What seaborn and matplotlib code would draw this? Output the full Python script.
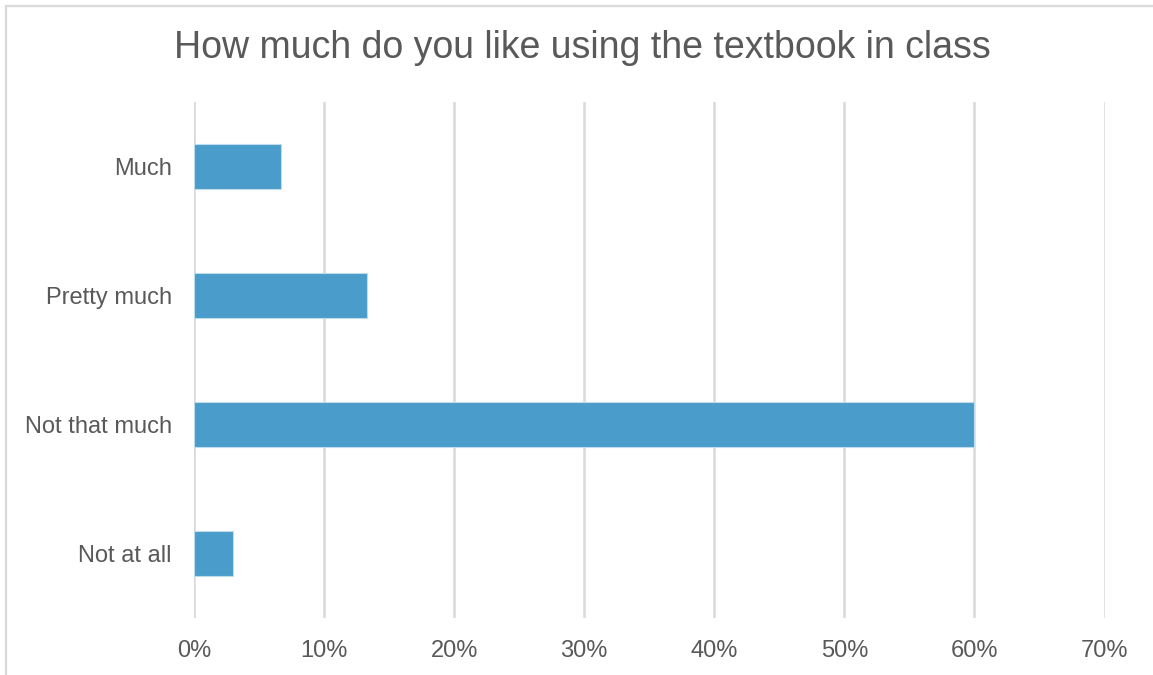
import matplotlib
matplotlib.use("Agg")
import matplotlib.pyplot as plt
from matplotlib.lines import Line2D
from matplotlib.ticker import PercentFormatter, MultipleLocator
import seaborn as sns
import pandas as pd

# Survey answers and their shares
categories = ["Much", "Pretty much", "Not that much", "Not at all"]
shares = [0.0667, 0.1333, 0.60, 0.03]

title = "How much do you like using the textbook in class"

TEXT = "#595959"
GRID = "#D9D9D9"
BAR = "#4A9CCA"

sns.set_theme(style="white")
plt.rcParams["font.family"] = ["Liberation Sans", "DejaVu Sans"]

W, H, DPI = 1153, 675, 100
fig = plt.figure(figsize=(W / DPI, H / DPI), dpi=DPI)
fig.patch.set_facecolor("white")

# light chart-area border along the top and left edges
bx, by = 6 / W, (H - 6) / H
fig.add_artist(Line2D([bx, 1.0], [by, by], transform=fig.transFigure,
                      color=GRID, linewidth=1.6))
fig.add_artist(Line2D([bx, bx], [0.0, by], transform=fig.transFigure,
                      color=GRID, linewidth=1.6))

ax = fig.add_axes([194 / W, (H - 618) / H, 910.5 / W, 516 / H])

df = pd.DataFrame({"answer": categories, "share": shares})
sns.barplot(data=df, x="share", y="answer", order=categories,
            orient="h", color=BAR, width=0.355, saturation=1,
            edgecolor="#BFDCEC", linewidth=0.8, ax=ax)

ax.set_xlim(0, 0.7)
ax.xaxis.set_major_locator(MultipleLocator(0.1))
ax.xaxis.set_major_formatter(PercentFormatter(1, decimals=0))
ax.grid(axis="x", color=GRID, linewidth=1.8)
ax.grid(axis="y", visible=False)
ax.set_axisbelow(True)
for s in ax.spines.values():
    s.set_visible(False)
ax.set_xlabel("")
ax.set_ylabel("")
ax.tick_params(axis="x", length=0, pad=16, labelsize=17, labelcolor=TEXT)
ax.tick_params(axis="y", length=0, pad=16, labelsize=17, labelcolor=TEXT)

fig.text(582 / W, (H - 48) / H, title, ha="center", va="center",
         fontsize=27, color=TEXT)

fig.savefig("out.png", dpi=DPI, facecolor="white")
